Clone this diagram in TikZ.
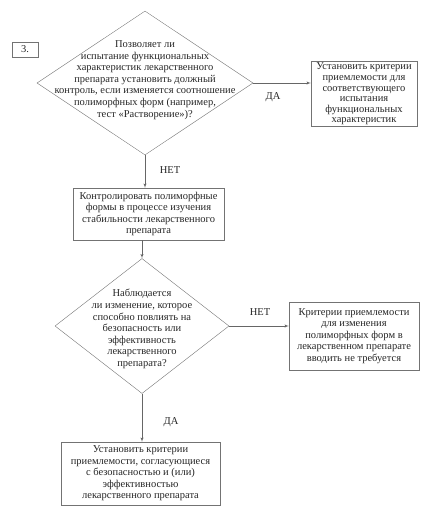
\documentclass[tikz,border=0pt]{standalone}
\usepackage{fontspec}
\setmainfont{Liberation Serif}
\usetikzlibrary{shapes,arrows}
\tikzstyle{block} = [rectangle, draw=black!55, text=black!85, align=center,
    inner sep=1pt, font=\fontsize{10.5}{11.5}\selectfont]
\tikzstyle{decision} = [diamond, draw=black!55, inner sep=0pt]
\tikzstyle{dtext} = [text=black!85, align=center, inner sep=0pt,
    font=\fontsize{10.5}{11.6}\selectfont]
\tikzstyle{answer} = [text=black!85, font=\fontsize{10.5}{11.5}\selectfont]
\tikzstyle{line} = [draw=black!60, line width=0.5pt, -latex']

\begin{document}
\begin{tikzpicture}[x=1pt, y=-1pt]
  \useasboundingbox (0,0) rectangle (434,522);
  \node [block, minimum width=26pt, minimum height=15pt] (num) at (25,49.5) {3.};
  % first question
  \node [decision, minimum width=216pt, minimum height=144pt] (q1) at (145,83) {};
  \node [dtext] (q1t) at (145,80) {Позволяет ли\\испытание функциональных\\характеристик лекарственного\\препарата установить должный\\контроль, если изменяется соотношение\\полиморфных форм (например,\\тест «Растворение»)?};
  \node [block, minimum width=106pt, minimum height=65pt,
    font=\fontsize{10.5}{10.6}\selectfont] (b1) at (364,94) {Установить критерии\\приемлемости для\\соответствующего\\испытания\\функциональных\\характеристик};
  \node [block, minimum width=151pt, minimum height=52pt] (b2) at (148.5,214) {Контролировать полиморфные\\формы в процессе изучения\\стабильности лекарственного\\препарата};
  % second question
  \node [decision, minimum width=174pt, minimum height=135pt] (q2) at (142,326) {};
  \node [dtext] (q2t) at (142,329) {Наблюдается\\ли изменение, которое\\способно повлиять на\\безопасность или\\эффективность\\лекарственного\\препарата?};
  \node [block, minimum width=130pt, minimum height=68pt] (b3) at (354,336) {Критерии приемлемости\\для изменения\\полиморфных форм в\\лекарственном препарате\\вводить не требуется};
  \node [block, minimum width=159pt, minimum height=63pt] (b4) at (140.5,473.5) {Установить критерии\\приемлемости, согласующиеся\\с безопасностью и (или)\\эффективностью\\лекарственного препарата};
  \path [line] (q1.east) -- (q1.east -| b1.west);
  \path [line] (q1.south) -- (q1.south |- b2.north);
  \path [line] (b2.south -| q2.north) -- (q2.north);
  \path [line] (q2.east) -- (q2.east -| b3.west);
  \path [line] (q2.south) -- (q2.south |- b4.north);
  \node [answer] (yes1) at (273,97) {ДА};
  \node [answer] (no1) at (170,170) {НЕТ};
  \node [answer] (no2) at (260,312) {НЕТ};
  \node [answer] (yes2) at (171,422) {ДА};
\end{tikzpicture}
\end{document}
